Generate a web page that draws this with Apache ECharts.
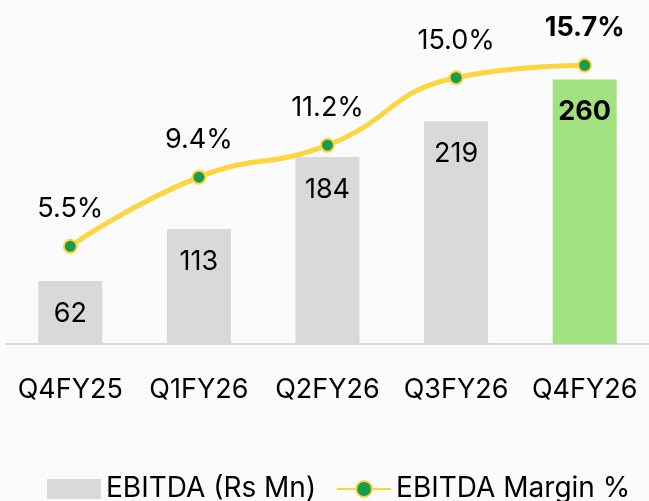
<!DOCTYPE html>
<html>
<head>
<meta charset="utf-8">
<script src="https://cdn.jsdelivr.net/npm/echarts@6/dist/echarts.min.js"></script>
<style>
html,body{margin:0;padding:0;background:#fbfbfb;}
#chart{width:649px;height:501px;}
</style>
</head>
<body>
<div id="chart"></div>
<script>
const categories = ['Q4FY25', 'Q1FY26', 'Q2FY26', 'Q3FY26', 'Q4FY26'];
const ebitda = [62, 113, 184, 219, 260];
const margin = [5.5, 9.4, 11.2, 15.0, 15.7];

const FONT = 'Inter';
const chart = echarts.init(document.getElementById('chart'));

const barData = ebitda.map((v, i) => {
  const last = i === ebitda.length - 1;
  return {
    value: v,
    itemStyle: { color: last ? '#a1e17f' : '#d9d9d9' },
    label: { fontWeight: last ? 'bold' : 'normal' }
  };
});
const lineData = margin.map((v, i) => {
  const last = i === margin.length - 1;
  return { value: v, label: { fontWeight: last ? 'bold' : 'normal' } };
});

chart.setOption({
  backgroundColor: '#fbfbfb',
  animation: false,
  textStyle: { fontFamily: FONT },
  grid: { left: 6, right: -6, top: 44, bottom: 157, containLabel: false },
  legend: {
    top: 470,
    left: 42,
    itemWidth: 54,
    itemHeight: 20,
    itemGap: 20,
    textStyle: { fontFamily: FONT, fontSize: 28, color: '#000' },
    data: [
      { name: 'EBITDA (Rs Mn)', icon: 'rect', itemStyle: { color: '#d9d9d9' } },
      { name: 'EBITDA Margin %' }
    ]
  },
  xAxis: {
    type: 'category',
    data: categories,
    axisLine: { show: true, lineStyle: { color: '#d9d9d9', width: 2 } },
    axisTick: { show: false },
    axisLabel: { fontFamily: FONT, fontSize: 27, color: '#000', margin: 32, interval: 0 }
  },
  yAxis: [
    { type: 'value', min: 0, max: 295, show: false, splitLine: { show: false } },
    { type: 'value', min: 0, max: 16.9, show: false, splitLine: { show: false } }
  ],
  series: [
    {
      name: 'EBITDA (Rs Mn)',
      type: 'bar',
      yAxisIndex: 0,
      barWidth: 64,
      data: barData,
      label: {
        show: true,
        position: 'insideTop',
        distance: 19,
        fontFamily: FONT,
        fontSize: 27,
        color: '#000'
      }
    },
    {
      name: 'EBITDA Margin %',
      type: 'line',
      yAxisIndex: 1,
      smooth: 0.5,
      data: lineData,
      symbol: 'circle',
      symbolSize: 13,
      lineStyle: { color: '#fdd53f', width: 5 },
      itemStyle: { color: '#1a9c50', borderColor: '#fdd53f', borderWidth: 2 },
      label: {
        show: true,
        position: 'top',
        distance: 16,
        fontFamily: FONT,
        fontSize: 27,
        color: '#000',
        formatter: p => p.value.toFixed(1) + '%'
      }
    }
  ]
});
</script>
</body>
</html>
